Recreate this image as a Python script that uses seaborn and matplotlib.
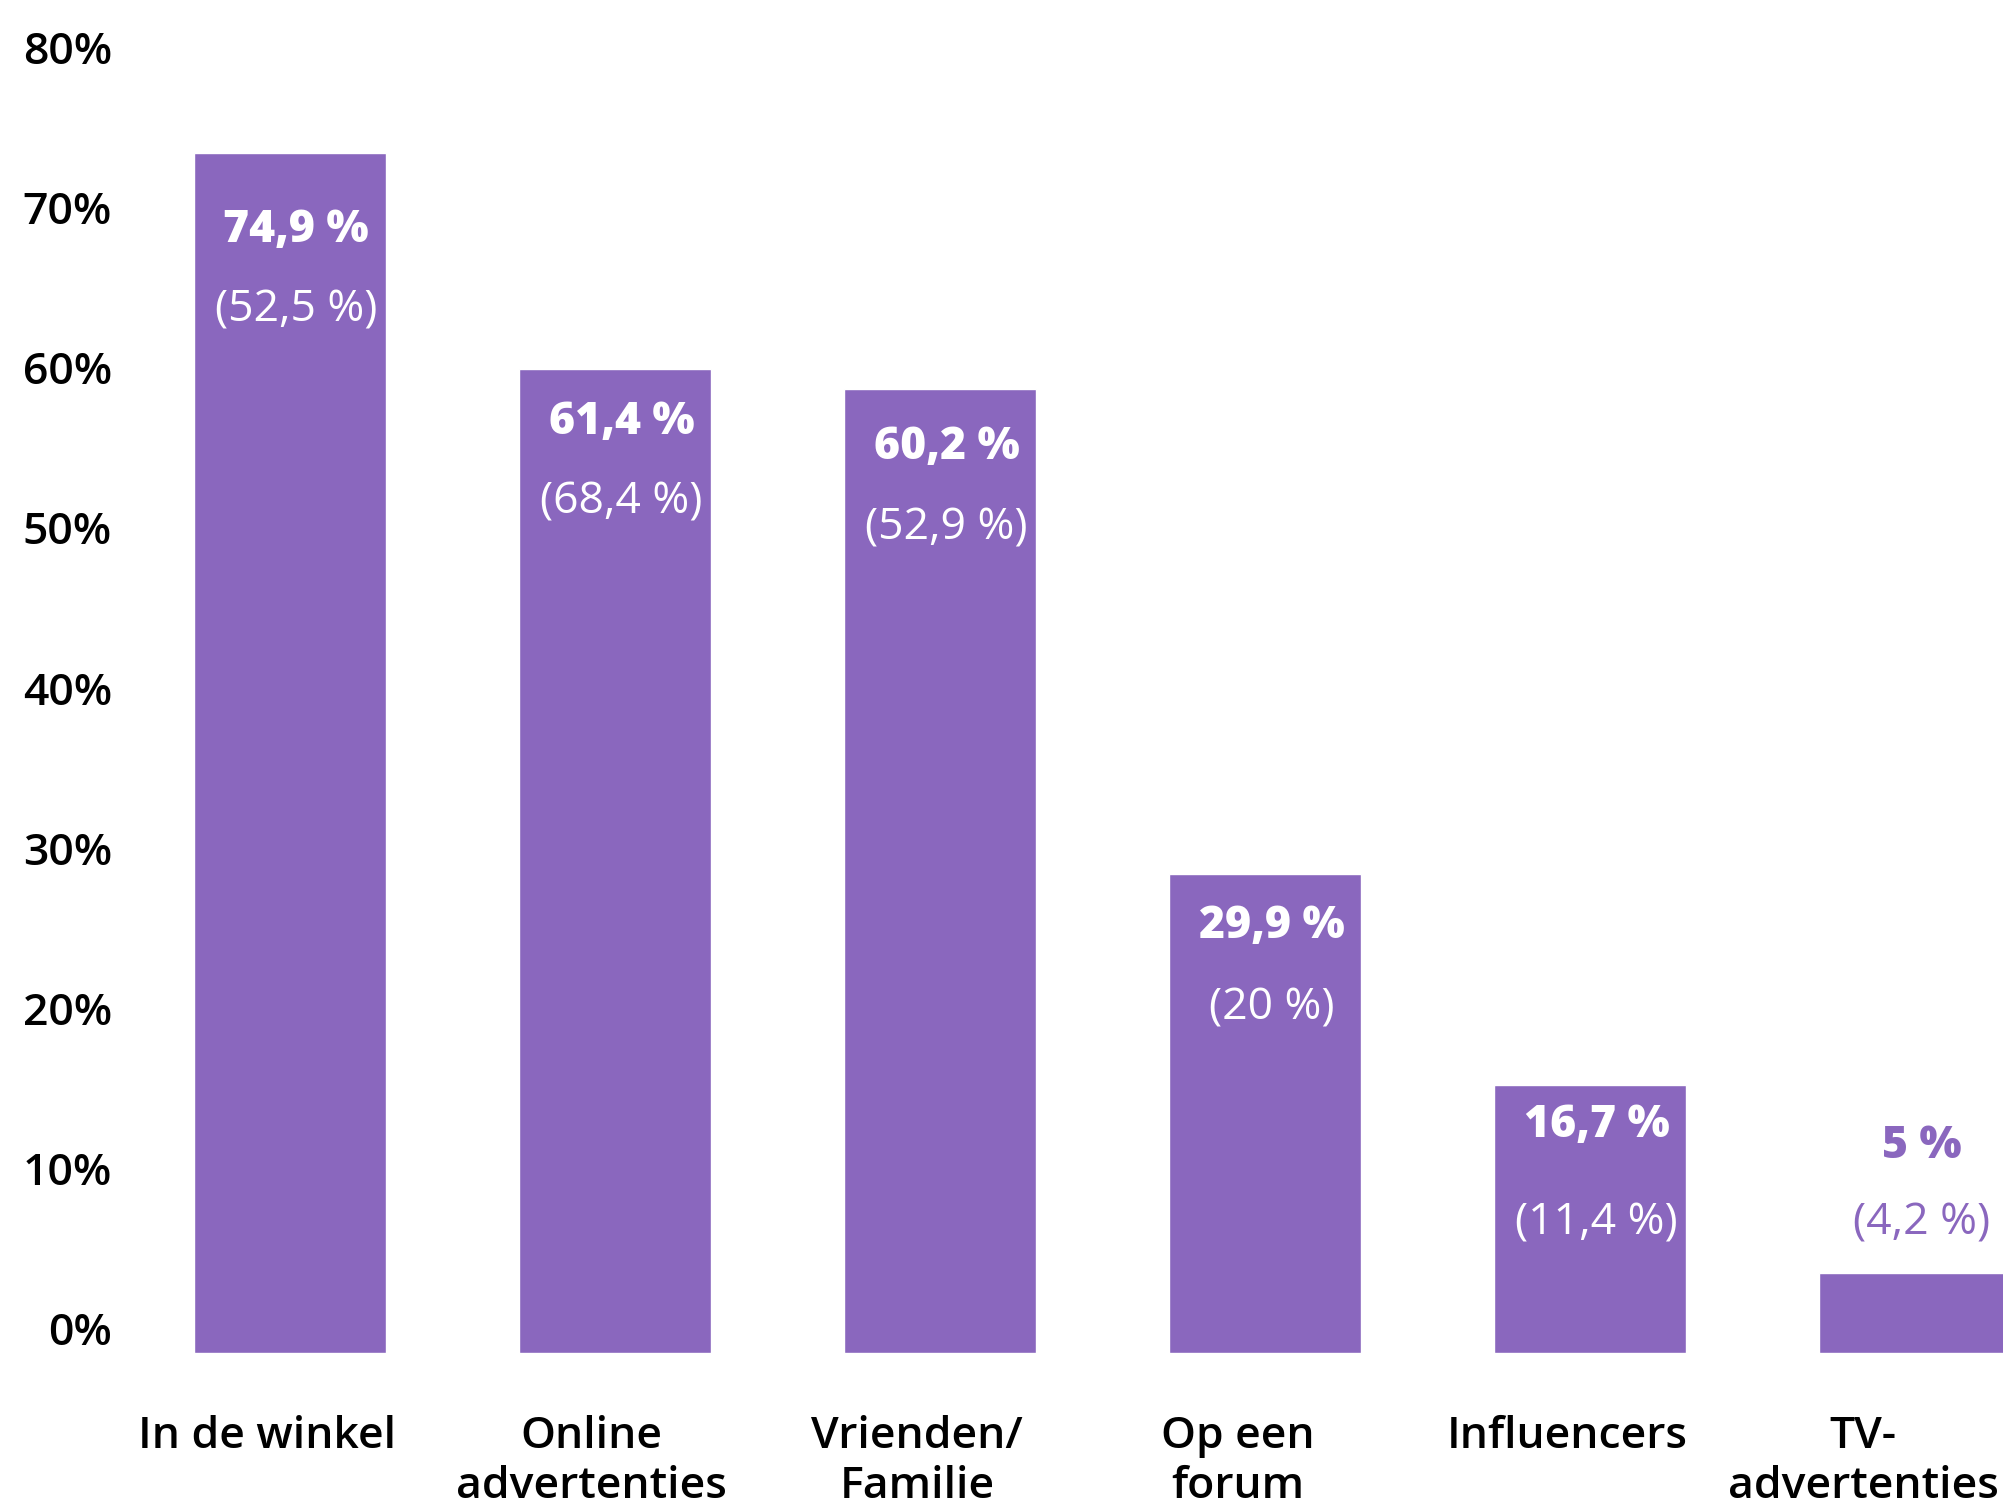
import matplotlib
matplotlib.use("Agg")
import matplotlib.pyplot as plt
import matplotlib.transforms as mtransforms
import pandas as pd
import seaborn as sns

# data
categories = ["In de winkel", "Online\nadvertenties", "Vrienden/\nFamilie",
              "Op een\nforum", "Influencers", "TV-\nadvertenties"]
values = [74.9, 61.4, 60.2, 29.9, 16.7, 5.0]
main_labels = ["74,9 %", "61,4 %", "60,2 %", "29,9 %", "16,7 %", "5 %"]
sub_labels = ["(52,5 %)", "(68,4 %)", "(52,9 %)", "(20 %)", "(11,4 %)", "(4,2 %)"]
# where the two value labels sit (in % on the y axis)
main_label_y = [70.1, 58.1, 56.5, 26.6, 14.2, 12.9]
sub_label_y = [65.1, 53.1, 51.5, 21.5, 8.1, 8.1]
y_ticks = [0, 10, 20, 30, 40, 50, 60, 70, 80]

PURPLE = "#8A67BE"
FS = 32

sns.set_theme(style="white")
plt.rcParams["font.family"] = ["Open Sans", "DejaVu Sans"]

df = pd.DataFrame({"Kanaal": categories, "Aandeel": values})

fig = plt.figure(figsize=(20.03, 15.08), dpi=100)
ax = fig.add_axes([0.0635, 0.103, 0.9365, 0.8496])

sns.barplot(data=df, x="Kanaal", y="Aandeel", color=PURPLE, saturation=1,
            width=0.59, ax=ax)

ax.set_xlim(-0.5, 5.27)
ax.set_ylim(0, 80)
ax.set_yticks(y_ticks)
ax.set_yticklabels([f"{t}%" for t in y_ticks])
ax.set_xlabel("")
ax.set_ylabel("")
sns.despine(ax=ax, left=True, bottom=True)
ax.tick_params(axis="both", length=0, labelsize=FS, colors="black")
ax.tick_params(axis="y", pad=11)
ax.tick_params(axis="x", pad=45)

for lab in ax.get_yticklabels():
    lab.set_fontweight("semibold")
    lab.set_transform(lab.get_transform() +
                      mtransforms.ScaledTranslation(0, 0.24, fig.dpi_scale_trans))

x_shift = [-0.23, -0.23, -0.23, -0.27, -0.23, -0.52]
for lab, dx in zip(ax.get_xticklabels(), x_shift):
    lab.set_fontweight("semibold")
    lab.set_linespacing(1.22)
    lab.set_transform(lab.get_transform() +
                      mtransforms.ScaledTranslation(dx, 0, fig.dpi_scale_trans))

for i, (m, s) in enumerate(zip(main_labels, sub_labels)):
    col = "white" if main_label_y[i] < values[i] else PURPLE
    ax.text(i + 0.02, main_label_y[i], m, ha="center", va="center",
            fontsize=FS, fontweight="heavy", color=col)
    col = "white" if sub_label_y[i] < values[i] else PURPLE
    ax.text(i + 0.02, sub_label_y[i], s, ha="center", va="center",
            fontsize=FS, fontweight="normal", color=col)

fig.savefig("out.png", dpi=100)
